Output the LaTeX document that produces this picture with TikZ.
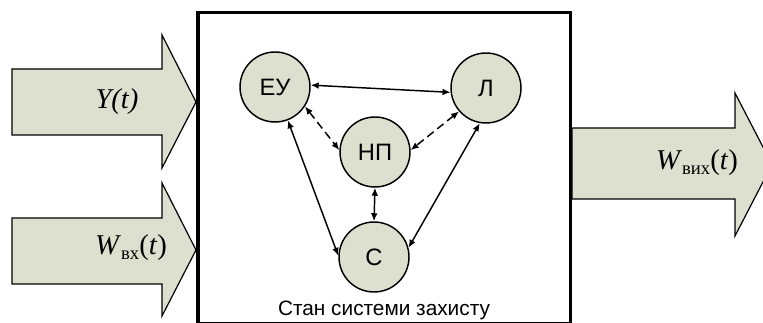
\documentclass[tikz,border=0pt]{standalone}
\usepackage{fontspec}
\setmainfont{Liberation Serif}
\setsansfont{Liberation Sans}
\usetikzlibrary{arrows.meta}

\definecolor{statefill}{RGB}{221,224,206}

\newcommand{\subtxt}[1]{\raisebox{-3.2pt}{\fontsize{14pt}{14pt}\selectfont #1}}

\tikzset{
  flow/.style={draw=black, line width=0.9pt, fill=statefill, line join=miter},
  flowlabel/.style={font=\fontsize{21.5pt}{24pt}\selectfont, inner sep=0pt},
  state/.style={circle, draw=black, line width=1.1pt, fill=statefill,
    minimum size=52.5pt, inner sep=0pt,
    font=\sffamily\fontsize{17.8pt}{19pt}\selectfont},
  link/.style={line width=1.1pt, {Latex[length=6pt,width=5pt]}-{Latex[length=6pt,width=5pt]}},
  weaklink/.style={link, dash pattern=on 6pt off 3.5pt},
  frame/.style={draw=black, line width=2.8pt},
}

\begin{document}
\begin{tikzpicture}[x=0.75pt, y=-0.75pt]
\useasboundingbox (0,0) rectangle (763,323);
\clip (0,0) rectangle (763,323);

% input flows
\draw[flow] (12,69) -- (162,69) -- (162,35) -- (196,102) -- (162,168)
  -- (162,135) -- (12,135) -- cycle;
\draw[flow] (12,218) -- (162,218) -- (162,183) -- (196,250) -- (162,316)
  -- (162,284) -- (12,284) -- cycle;

% output flow
\draw[flow] (572,128) -- (735,128) -- (735,93) -- (772,164.5) -- (735,236)
  -- (735,199) -- (572,199) -- cycle;

% protection system frame
\draw[frame] (198,12.5) rectangle (570.5,323.8);

\node[flowlabel] (yin) at (117,102) {\textit{Y(t)}};
\node[flowlabel] (win) at (131,248) {\textit{W}\subtxt{вх}(\textit{t})};
\node[flowlabel] (wout) at (697,163) {\textit{W}\subtxt{вих}(\textit{t})};

% states
\node[state] (eu) at (275,87) {ЕУ};
\node[state] (l)  at (486,88) {Л};
\node[state] (np) at (375,152) {НП};
\node[state] (s)  at (374,257) {С};

\draw[link] (eu.3) -- (l.187);
\draw[weaklink] (eu.-33) -- (np.177);
\draw[weaklink] (l.221) -- (np.3);
\draw[link] (np.south) -- (s.north);
\draw[link] (eu.-69) -- (s.178);
\draw[link] (l.-100) -- (s.15);

\node[font=\sffamily\fontsize{15.6pt}{17pt}\selectfont, inner sep=0pt] (cap) at (384,310) {Стан системи захисту};
\end{tikzpicture}
\end{document}
